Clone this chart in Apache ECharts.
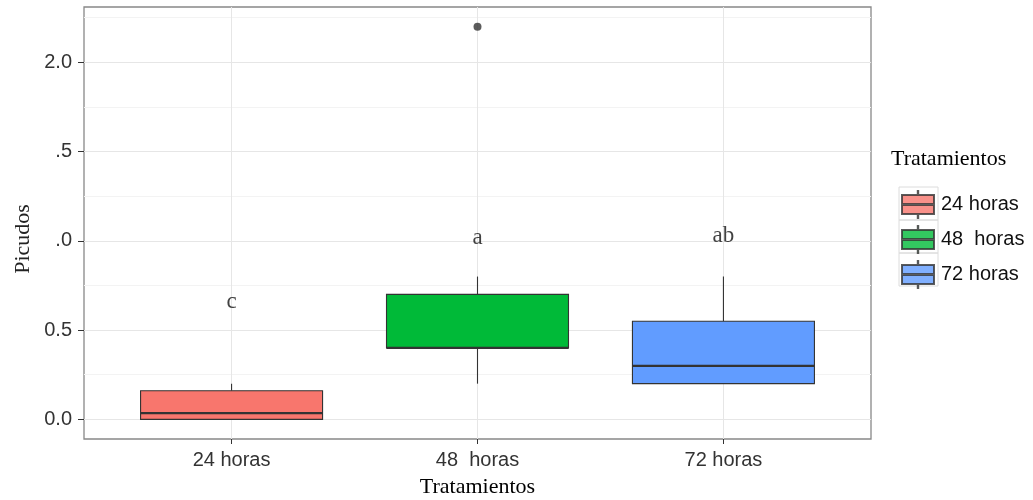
<!DOCTYPE html>
<html>
<head>
<meta charset="utf-8">
<script src="https://cdn.jsdelivr.net/npm/echarts@6/dist/echarts.min.js"></script>
<style>
html,body{margin:0;padding:0;background:#fff;}
#chart{width:1033px;height:500px;}
</style>
</head>
<body>
<div id="chart"></div>
<script>
const categories = ['24 horas', '48  horas', '72 horas'];
const boxMin = [0, 0.2, 0.2];
const boxQ1 = [0, 0.4, 0.2];
const boxMedian = [0.035, 0.4, 0.3];
const boxQ3 = [0.16, 0.7, 0.55];
const boxMax = [0.2, 0.8, 0.8];
const outlierGroup = [2];
const outlierValue = [2.2];
const groupLetters = ['c', 'a', 'ab'];
const letterY = [0.656, 1.018, 1.03];
const fillColors = ['#F8766D', '#00BA38', '#619CFF'];
const xTickValues = [1, 2, 3];
const yTickValues = [0, 0.5, 1, 1.5, 2];
const yTickLabels = ['0.0', '0.5', '.0', '.5', '2.0'];

const chart = echarts.init(document.getElementById('chart'), null, {renderer: 'canvas'});

const boxData = categories.map((c, i) => [xTickValues[i], boxMin[i], boxQ1[i], boxMedian[i], boxQ3[i], boxMax[i]]);

function renderBox(params, api) {
  const x = api.value(0);
  const pMin = api.coord([x, api.value(1)]);
  const pQ1 = api.coord([x, api.value(2)]);
  const pMed = api.coord([x, api.value(3)]);
  const pQ3 = api.coord([x, api.value(4)]);
  const pMax = api.coord([x, api.value(5)]);
  const half = api.size([0.74, 0])[0] / 2;
  const cx = pMed[0];
  const stroke = '#333333';
  return {
    type: 'group',
    children: [
      {type: 'line', shape: {x1: cx, y1: pQ3[1], x2: cx, y2: pMax[1]}, style: {stroke, lineWidth: 1.1}},
      {type: 'line', shape: {x1: cx, y1: pQ1[1], x2: cx, y2: pMin[1]}, style: {stroke, lineWidth: 1.1}},
      {type: 'rect', shape: {x: cx - half, y: pQ3[1], width: 2 * half, height: pQ1[1] - pQ3[1]},
        style: {fill: fillColors[params.dataIndex], stroke, lineWidth: 1.1}},
      {type: 'line', shape: {x1: cx - half, y1: pMed[1], x2: cx + half, y2: pMed[1]}, style: {stroke, lineWidth: 2.2}}
    ]
  };
}

const legendIcon = 'path://M15.8,0H16.2V4H15.8Z M0,4H32V13H0Z M0,14H32V23H0Z M15.8,23H16.2V27H15.8Z';

const legendSeries = categories.map((c, i) => ({
  name: c,
  type: 'scatter',
  data: [],
  itemStyle: {color: fillColors[i], borderColor: '#333333', borderWidth: 0.8}
}));

const option = {
  backgroundColor: '#ffffff',
  animation: false,
  title: [{
    text: 'Tratamientos',
    left: 891, top: 148,
    padding: 0,
    textStyle: {fontFamily: 'Liberation Serif', fontSize: 22, fontWeight: 'normal', color: '#000'}
  }],
  legend: {
    data: categories,
    orient: 'vertical',
    left: 901, top: 190,
    padding: 0,
    itemWidth: 32, itemHeight: 27,
    itemGap: 6,
    icon: legendIcon,
    selectedMode: false,
    textStyle: {fontFamily: 'Liberation Sans', fontSize: 20, color: '#111', padding: [0, 0, 0, 2]}
  },
  graphic: [
    {type: 'rect', z: -1, shape: {x: 899, y: 187, width: 39, height: 33}, style: {fill: 'none', stroke: '#dcdcdc', lineWidth: 1}},
    {type: 'rect', z: -1, shape: {x: 899, y: 220, width: 39, height: 33}, style: {fill: 'none', stroke: '#dcdcdc', lineWidth: 1}},
    {type: 'rect', z: -1, shape: {x: 899, y: 253, width: 39, height: 33}, style: {fill: 'none', stroke: '#dcdcdc', lineWidth: 1}},
    {type: 'text', x: 23, y: 239, rotation: Math.PI / 2,
      style: {text: 'Picudos', fontFamily: 'Liberation Serif', fontSize: 22, fill: '#222', align: 'center', verticalAlign: 'middle'}}
  ],
  grid: {
    left: 84, right: 162, top: 7, bottom: 61,
    show: true, borderColor: '#888888', borderWidth: 1.3, backgroundColor: '#fff',
    containLabel: false,
    outerBoundsMode: 'none'
  },
  xAxis: {
    type: 'value',
    min: 0.4, max: 3.6,
    name: 'Tratamientos',
    nameLocation: 'middle',
    nameGap: 37,
    nameTextStyle: {fontFamily: 'Liberation Serif', fontSize: 22, color: '#000'},
    axisLine: {show: false, onZero: false},
    axisTick: {show: true, length: 5, customValues: xTickValues, lineStyle: {color: '#333'}},
    axisLabel: {
      customValues: xTickValues,
      fontFamily: 'Liberation Sans', fontSize: 20, color: '#333', margin: 11,
      formatter: v => {
        const k = xTickValues.findIndex(t => Math.abs(t - v) < 1e-6);
        return k >= 0 ? categories[k] : '';
      }
    },
    splitLine: {show: true, lineStyle: {color: '#e6e6e6', width: 1}},
    minorSplitLine: {show: false}
  },
  yAxis: {
    type: 'value',
    min: -0.11, max: 2.31,
    minInterval: 0.5, maxInterval: 0.5,
    axisLine: {show: false, onZero: false},
    axisTick: {show: true, length: 6, customValues: yTickValues, lineStyle: {color: '#333'}},
    axisLabel: {
      customValues: yTickValues,
      fontFamily: 'Liberation Sans', fontSize: 20, color: '#333', margin: 12,
      formatter: v => {
        const k = yTickValues.findIndex(t => Math.abs(t - v) < 1e-6);
        return k >= 0 ? yTickLabels[k] : '';
      }
    },
    splitLine: {show: true, lineStyle: {color: '#e6e6e6', width: 1}},
    minorTick: {show: false, splitNumber: 2},
    minorSplitLine: {show: true, lineStyle: {color: '#f3f3f3', width: 1}}
  },
  series: [
    {
      type: 'custom',
      name: 'box',
      renderItem: renderBox,
      encode: {x: 0, y: [1, 2, 3, 4, 5]},
      data: boxData,
      silent: true
    },
    {
      type: 'scatter',
      name: 'outlier',
      data: outlierGroup.map((g, i) => [g, outlierValue[i]]),
      symbolSize: 8,
      itemStyle: {color: '#333333'},
      silent: true
    },
    {
      type: 'scatter',
      name: 'letters',
      data: groupLetters.map((l, i) => [xTickValues[i], letterY[i]]),
      symbolSize: 0,
      silent: true,
      label: {
        show: true, position: 'inside',
        formatter: p => groupLetters[p.dataIndex],
        fontFamily: 'Liberation Serif', fontSize: 23, color: '#111'
      }
    },
    ...legendSeries
  ]
};
chart.setOption(option);
</script>
</body>
</html>
